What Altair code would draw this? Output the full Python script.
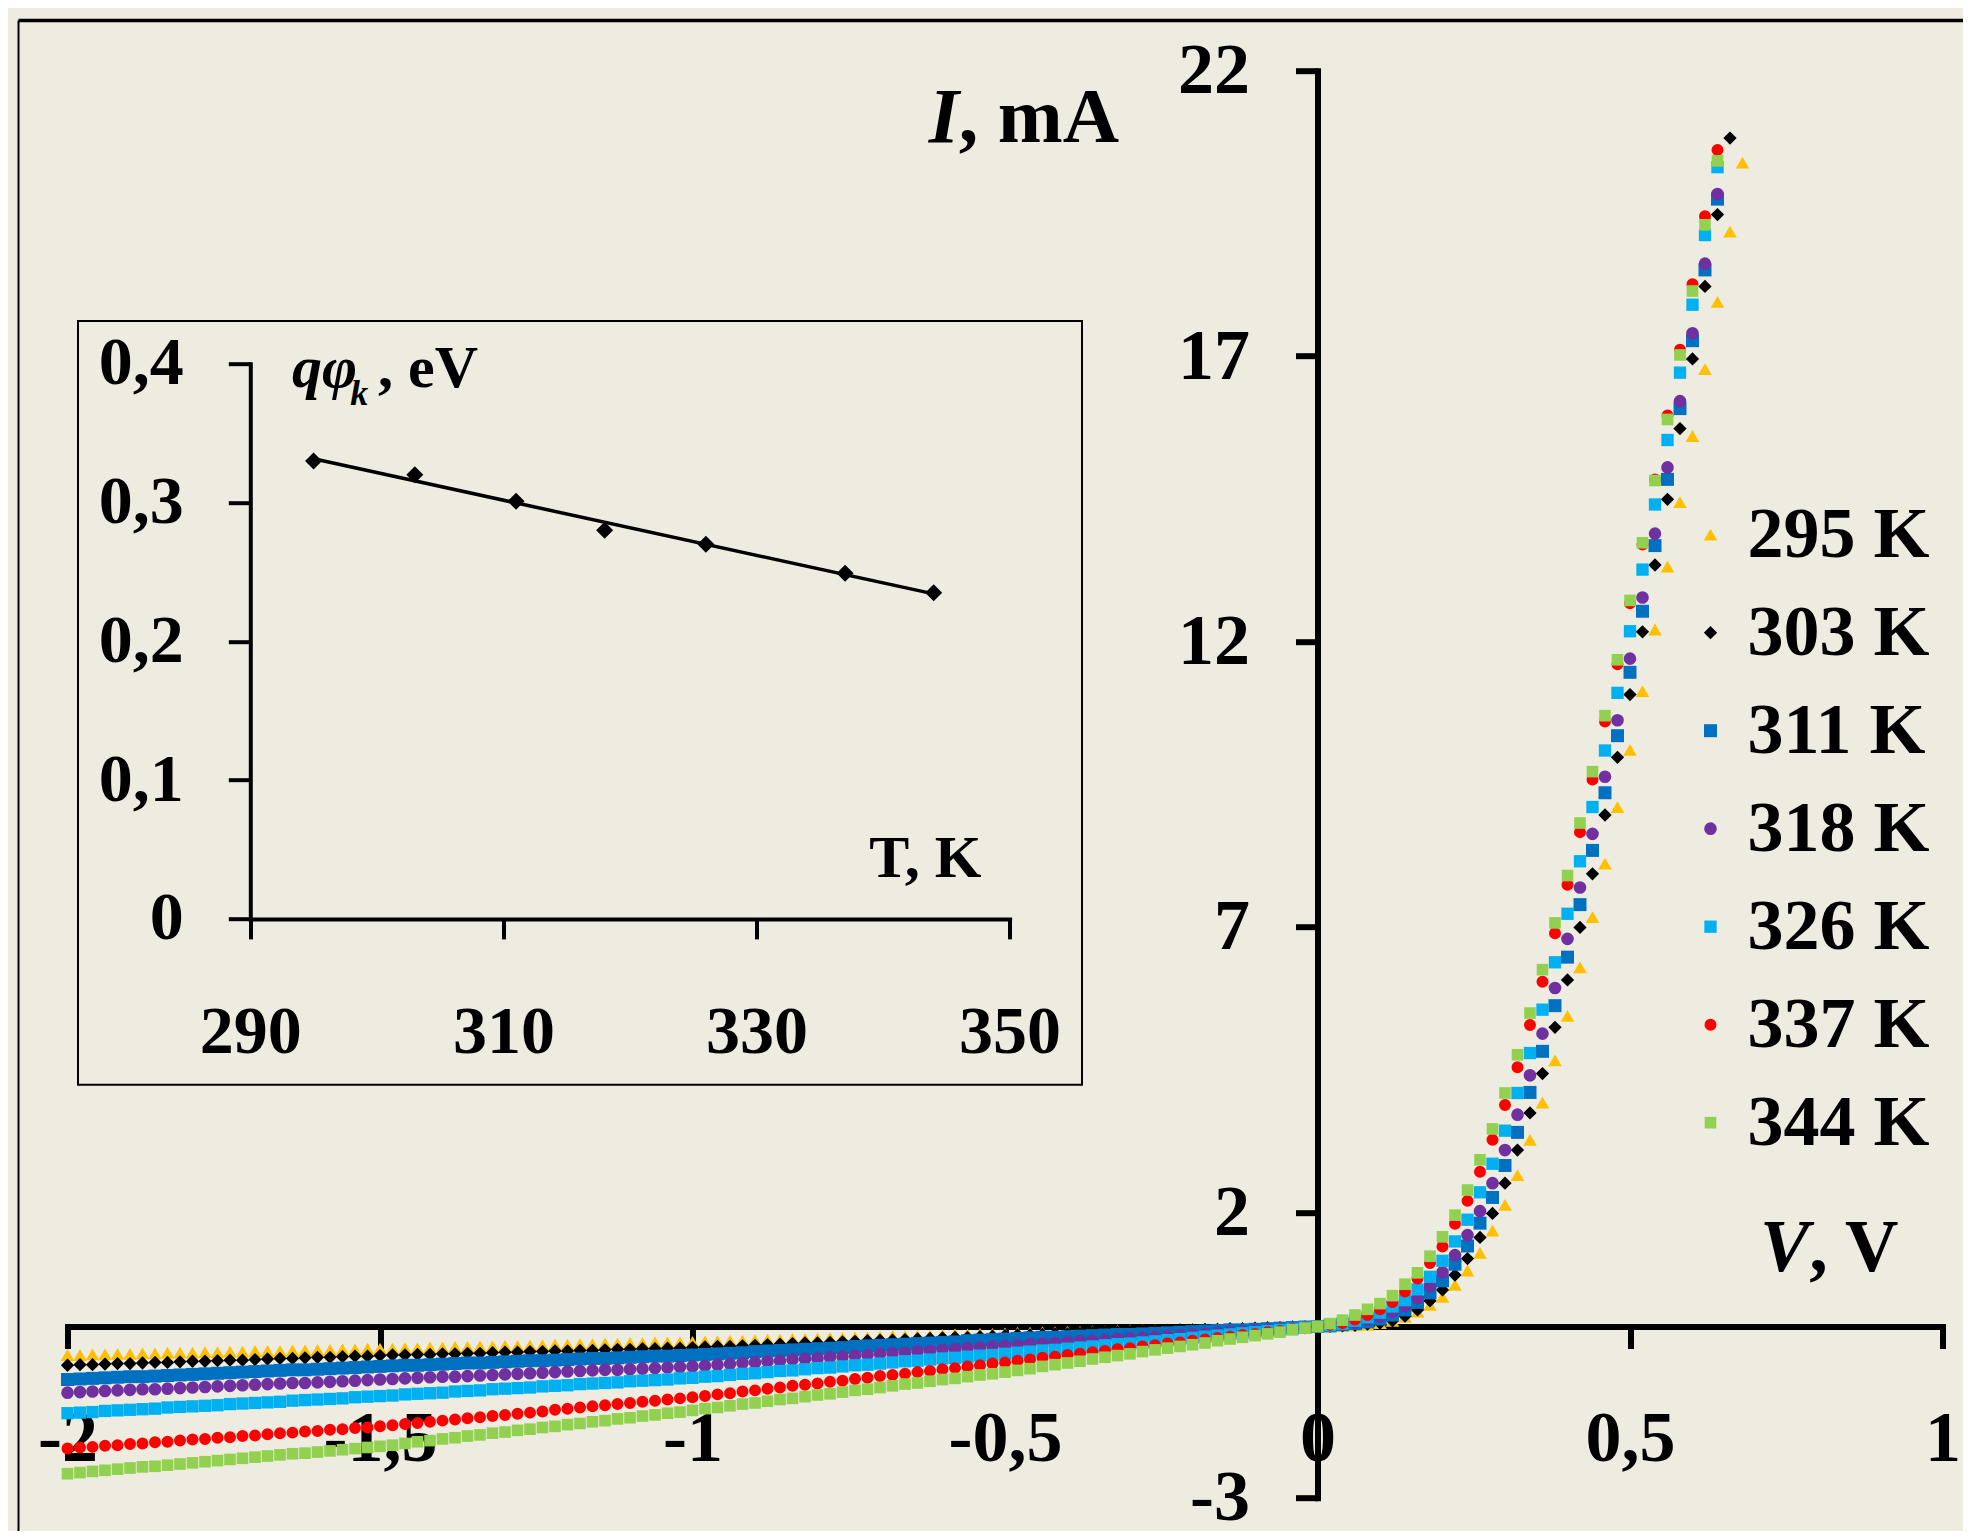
import altair as alt
import pandas as pd

SERIES = ["295 K", "303 K", "311 K", "318 K", "326 K", "337 K", "344 K"]
COLORS = ["#FFC000", "#000000", "#0070C0", "#7030A0", "#00B0F0", "#FF0000", "#92D050"]
SHAPES = ["triangle-up", "diamond", "square", "circle", "square", "circle", "square"]
SIZES = [185, 135, 150, 165, 150, 165, 145]

V_GRID = [
    -2.00, -1.98, -1.96, -1.94, -1.92, -1.90, -1.88, -1.86, -1.84, -1.82,
    -1.80, -1.78, -1.76, -1.74, -1.72, -1.70, -1.68, -1.66, -1.64, -1.62,
    -1.60, -1.58, -1.56, -1.54, -1.52, -1.50, -1.48, -1.46, -1.44, -1.42,
    -1.40, -1.38, -1.36, -1.34, -1.32, -1.30, -1.28, -1.26, -1.24, -1.22,
    -1.20, -1.18, -1.16, -1.14, -1.12, -1.10, -1.08, -1.06, -1.04, -1.02,
    -1.00, -0.98, -0.96, -0.94, -0.92, -0.90, -0.88, -0.86, -0.84, -0.82,
    -0.80, -0.78, -0.76, -0.74, -0.72, -0.70, -0.68, -0.66, -0.64, -0.62,
    -0.60, -0.58, -0.56, -0.54, -0.52, -0.50, -0.48, -0.46, -0.44, -0.42,
    -0.40, -0.38, -0.36, -0.34, -0.32, -0.30, -0.28, -0.26, -0.24, -0.22,
    -0.20, -0.18, -0.16, -0.14, -0.12, -0.10, -0.08, -0.06, -0.04, -0.02,
    0.00, 0.02, 0.04, 0.06, 0.08, 0.10, 0.12, 0.14, 0.16, 0.18,
    0.20, 0.22, 0.24, 0.26, 0.28, 0.30, 0.32, 0.34, 0.36, 0.38,
    0.40, 0.42, 0.44, 0.46, 0.48, 0.50, 0.52, 0.54, 0.56, 0.58,
    0.60, 0.62, 0.64, 0.66, 0.68,
]

I_295 = [
    -0.50, -0.50, -0.49, -0.49, -0.48, -0.48, -0.47, -0.47, -0.46, -0.46, -0.46, -0.45, -0.45,
    -0.44, -0.44, -0.43, -0.43, -0.43, -0.42, -0.42, -0.41, -0.41, -0.40, -0.40, -0.39,
    -0.39, -0.39, -0.38, -0.38, -0.37, -0.37, -0.36, -0.36, -0.35, -0.35, -0.34, -0.34, -0.33,
    -0.33, -0.32, -0.32, -0.31, -0.31, -0.30, -0.30, -0.29, -0.29, -0.28, -0.28, -0.28,
    -0.27, -0.26, -0.26, -0.25, -0.25, -0.24, -0.23, -0.23, -0.22, -0.22, -0.21, -0.20, -0.20,
    -0.19, -0.19, -0.18, -0.17, -0.17, -0.16, -0.16, -0.15, -0.14, -0.14, -0.13, -0.13,
    -0.12, -0.11, -0.11, -0.10, -0.10, -0.09, -0.09, -0.08, -0.08, -0.07, -0.07, -0.06, -0.06,
    -0.05, -0.05, -0.04, -0.04, -0.03, -0.03, -0.03, -0.02, -0.02, -0.01, -0.01, 0.00,
    0.00, 0.00, 0.01, 0.02, 0.03, 0.06, 0.10, 0.17, 0.26, 0.38, 0.52, 0.73, 0.98, 1.29, 1.68,
    2.13, 2.65, 3.27, 3.92, 4.66, 5.44, 6.29, 7.17, 8.11, 9.10, 10.10, 11.13, 12.21, 13.31,
    14.44, 15.60, 16.77, 17.95, 19.18, 20.39,
]
I_303 = [
    -0.68, -0.67, -0.67, -0.66, -0.65, -0.65, -0.64, -0.63, -0.63, -0.62, -0.61, -0.61, -0.60,
    -0.59, -0.59, -0.58, -0.57, -0.56, -0.56, -0.55, -0.54, -0.54, -0.53, -0.52, -0.52,
    -0.51, -0.50, -0.50, -0.49, -0.49, -0.48, -0.48, -0.47, -0.47, -0.46, -0.45, -0.45, -0.44,
    -0.44, -0.43, -0.43, -0.42, -0.42, -0.41, -0.40, -0.40, -0.39, -0.39, -0.38, -0.38,
    -0.37, -0.36, -0.35, -0.35, -0.34, -0.33, -0.32, -0.31, -0.30, -0.29, -0.29, -0.28, -0.27,
    -0.26, -0.25, -0.24, -0.24, -0.23, -0.22, -0.21, -0.20, -0.19, -0.19, -0.18, -0.17,
    -0.16, -0.15, -0.15, -0.14, -0.13, -0.13, -0.12, -0.11, -0.10, -0.10, -0.09, -0.08, -0.08,
    -0.07, -0.06, -0.06, -0.05, -0.05, -0.04, -0.04, -0.03, -0.02, -0.02, -0.01, -0.01,
    0.00, 0.00, 0.01, 0.02, 0.04, 0.06, 0.10, 0.18, 0.29, 0.45, 0.64, 0.90, 1.19, 1.56, 1.98,
    2.51, 3.09, 3.74, 4.43, 5.24, 6.07, 6.99, 7.93, 8.96, 9.97, 11.07, 12.17, 13.34, 14.49,
    15.73, 16.95, 18.22, 19.48, 20.82,
]
I_311 = [
    -0.93, -0.92, -0.91, -0.90, -0.89, -0.88, -0.88, -0.87, -0.86, -0.85, -0.84, -0.83, -0.82,
    -0.81, -0.80, -0.79, -0.78, -0.77, -0.76, -0.76, -0.75, -0.74, -0.73, -0.72, -0.71,
    -0.70, -0.69, -0.68, -0.68, -0.67, -0.66, -0.65, -0.64, -0.64, -0.63, -0.62, -0.61, -0.60,
    -0.60, -0.59, -0.58, -0.57, -0.56, -0.56, -0.55, -0.54, -0.53, -0.52, -0.52, -0.51,
    -0.50, -0.49, -0.48, -0.47, -0.46, -0.44, -0.43, -0.42, -0.41, -0.40, -0.39, -0.38, -0.37,
    -0.35, -0.34, -0.33, -0.32, -0.31, -0.30, -0.29, -0.28, -0.27, -0.25, -0.24, -0.23,
    -0.22, -0.21, -0.20, -0.19, -0.19, -0.18, -0.17, -0.16, -0.15, -0.14, -0.14, -0.13, -0.12,
    -0.11, -0.10, -0.09, -0.08, -0.07, -0.06, -0.06, -0.05, -0.04, -0.03, -0.02, -0.01,
    0.00, 0.01, 0.03, 0.05, 0.08, 0.13, 0.20, 0.29, 0.42, 0.59, 0.80, 1.09, 1.41, 1.81, 2.26,
    2.82, 3.40, 4.10, 4.82, 5.62, 6.47, 7.39, 8.34, 9.35, 10.35, 11.46, 12.53, 13.68, 14.84,
    16.08, 17.27, 18.51, 19.75,
]
I_318 = [
    -1.16, -1.15, -1.14, -1.13, -1.12, -1.11, -1.10, -1.10, -1.09, -1.08, -1.07, -1.06, -1.05,
    -1.04, -1.03, -1.02, -1.01, -1.00, -0.99, -0.99, -0.98, -0.97, -0.96, -0.95, -0.94,
    -0.93, -0.92, -0.91, -0.90, -0.89, -0.88, -0.88, -0.87, -0.86, -0.85, -0.84, -0.83, -0.82,
    -0.81, -0.80, -0.79, -0.78, -0.77, -0.76, -0.76, -0.75, -0.74, -0.73, -0.72, -0.71,
    -0.70, -0.69, -0.67, -0.66, -0.64, -0.63, -0.61, -0.60, -0.58, -0.57, -0.56, -0.54, -0.53,
    -0.51, -0.50, -0.48, -0.47, -0.46, -0.44, -0.43, -0.41, -0.40, -0.38, -0.37, -0.35,
    -0.34, -0.33, -0.31, -0.30, -0.29, -0.27, -0.26, -0.25, -0.24, -0.22, -0.21, -0.20, -0.18,
    -0.17, -0.16, -0.14, -0.13, -0.11, -0.10, -0.09, -0.07, -0.06, -0.04, -0.03, -0.01,
    0.00, 0.02, 0.04, 0.07, 0.12, 0.18, 0.26, 0.36, 0.50, 0.71, 0.95, 1.25, 1.60, 2.02, 2.51,
    3.09, 3.71, 4.40, 5.13, 5.93, 6.79, 7.69, 8.63, 9.63, 10.62, 11.70, 12.77, 13.89, 15.05,
    16.21, 17.40, 18.62, 19.84,
]
I_326 = [
    -1.52, -1.51, -1.50, -1.48, -1.47, -1.46, -1.45, -1.44, -1.42, -1.41, -1.40, -1.39, -1.38,
    -1.36, -1.35, -1.34, -1.33, -1.32, -1.30, -1.29, -1.28, -1.27, -1.26, -1.24, -1.23,
    -1.22, -1.21, -1.19, -1.18, -1.17, -1.16, -1.14, -1.13, -1.12, -1.10, -1.09, -1.08, -1.07,
    -1.05, -1.04, -1.03, -1.01, -1.00, -0.99, -0.98, -0.96, -0.95, -0.94, -0.93, -0.91,
    -0.90, -0.88, -0.87, -0.85, -0.83, -0.82, -0.80, -0.78, -0.77, -0.75, -0.73, -0.72, -0.70,
    -0.68, -0.67, -0.65, -0.63, -0.61, -0.60, -0.58, -0.56, -0.55, -0.53, -0.51, -0.50,
    -0.48, -0.46, -0.44, -0.42, -0.41, -0.39, -0.37, -0.35, -0.33, -0.31, -0.30, -0.28, -0.26,
    -0.24, -0.22, -0.20, -0.18, -0.16, -0.14, -0.12, -0.10, -0.08, -0.06, -0.04, -0.02,
    0.00, 0.02, 0.05, 0.10, 0.16, 0.24, 0.35, 0.46, 0.65, 0.87, 1.15, 1.49, 1.87, 2.35, 2.85,
    3.43, 4.09, 4.79, 5.55, 6.38, 7.23, 8.15, 9.10, 10.09, 11.10, 12.18, 13.26, 14.40, 15.53,
    16.71, 17.90, 19.12, 20.31,
]
I_337 = [
    -2.14, -2.12, -2.11, -2.09, -2.08, -2.06, -2.05, -2.03, -2.02, -2.00, -1.98, -1.97, -1.95,
    -1.94, -1.92, -1.91, -1.89, -1.87, -1.86, -1.84, -1.83, -1.81, -1.80, -1.78, -1.77,
    -1.75, -1.73, -1.71, -1.69, -1.67, -1.65, -1.63, -1.61, -1.59, -1.57, -1.55, -1.53, -1.51,
    -1.49, -1.46, -1.44, -1.42, -1.40, -1.38, -1.36, -1.34, -1.32, -1.30, -1.28, -1.26,
    -1.24, -1.22, -1.19, -1.17, -1.14, -1.12, -1.09, -1.07, -1.04, -1.02, -1.00, -0.97, -0.95,
    -0.92, -0.90, -0.87, -0.85, -0.83, -0.80, -0.78, -0.75, -0.73, -0.70, -0.68, -0.65,
    -0.63, -0.60, -0.58, -0.55, -0.53, -0.50, -0.48, -0.45, -0.43, -0.40, -0.38, -0.35, -0.33,
    -0.30, -0.28, -0.25, -0.23, -0.20, -0.18, -0.15, -0.13, -0.10, -0.08, -0.05, -0.03,
    0.00, 0.03, 0.06, 0.12, 0.20, 0.30, 0.43, 0.61, 0.84, 1.11, 1.40, 1.80, 2.20, 2.71, 3.27,
    3.88, 4.54, 5.28, 6.04, 6.89, 7.74, 8.66, 9.58, 10.60, 11.60, 12.67, 13.70, 14.84, 15.96,
    17.11, 18.26, 19.45, 20.61,
]
I_344 = [
    -2.58, -2.56, -2.54, -2.52, -2.50, -2.48, -2.46, -2.45, -2.43, -2.41, -2.39, -2.37, -2.35,
    -2.33, -2.31, -2.29, -2.27, -2.25, -2.23, -2.22, -2.20, -2.18, -2.16, -2.14, -2.12,
    -2.10, -2.08, -2.05, -2.02, -2.00, -1.97, -1.95, -1.92, -1.90, -1.87, -1.85, -1.82, -1.80,
    -1.77, -1.75, -1.72, -1.70, -1.67, -1.65, -1.62, -1.60, -1.57, -1.55, -1.52, -1.50,
    -1.47, -1.44, -1.42, -1.39, -1.36, -1.34, -1.31, -1.28, -1.26, -1.23, -1.20, -1.18, -1.15,
    -1.12, -1.10, -1.07, -1.04, -1.01, -0.99, -0.96, -0.93, -0.91, -0.88, -0.85, -0.83,
    -0.80, -0.77, -0.74, -0.70, -0.67, -0.64, -0.61, -0.57, -0.54, -0.51, -0.48, -0.44, -0.41,
    -0.38, -0.35, -0.32, -0.29, -0.25, -0.22, -0.19, -0.16, -0.13, -0.10, -0.06, -0.03,
    0.00, 0.05, 0.11, 0.20, 0.30, 0.40, 0.54, 0.74, 0.94, 1.23, 1.57, 1.95, 2.39, 2.92, 3.46,
    4.09, 4.76, 5.49, 6.25, 7.07, 7.90, 8.82, 9.72, 10.70, 11.68, 12.72, 13.73, 14.82, 15.89,
    17.02, 18.14, 19.30, 20.42,
]

T_INSET = [295, 303, 311, 318, 326, 337, 344]
PHI_INSET = [0.330, 0.320, 0.301, 0.280, 0.270, 0.249, 0.235]

X_TICKS = [-2, -1.5, -1, -0.5, 0, 0.5, 1]
Y_TICKS = [-3, 2, 7, 12, 17, 22]
TX_TICKS = [290, 310, 330, 350]
TY_TICKS = [0, 0.1, 0.2, 0.3, 0.4]

ALL_I = [I_295, I_303, I_311, I_318, I_326, I_337, I_344]
EXPECTED = [135, 134, 133, 133, 133, 133, 133]
for name, vals, n in zip(SERIES, ALL_I, EXPECTED):
    assert len(vals) == n, f"{name}: {len(vals)} values, expected {n}"

FONT = "Liberation Serif"
BG = "#EEECE1"
W, H = 1875, 1427
LBL = 72
COMMA = "replace(toString(datum.value), '.', ',')"

rows = []
for name, vals in zip(SERIES, ALL_I):
    for v, cur in zip(V_GRID, vals):
        rows.append({"V": v, "I": cur, "series": name})
iv = pd.DataFrame(rows)
inset_df = pd.DataFrame({"T": T_INSET, "phi": PHI_INSET})
one = pd.DataFrame({"k": [0]})


def axis(orient, offset, values, tick, pad, width, font_size=LBL):
    return alt.Axis(
        orient=orient, offset=offset, values=values, title=None, grid=False,
        labelExpr=COMMA, labelFont=FONT, labelFontSize=font_size,
        labelFontWeight="bold", labelColor="black", labelPadding=pad,
        labelFlush=False, labelOverlap=False, labelBound=False,
        domainColor="black", domainWidth=width, tickColor="black",
        tickWidth=width, tickSize=tick, domainCap="square",
    )


leg = alt.Legend(
    orient="none", legendX=1607, legendY=428, title=None,
    labelFont=FONT, labelFontSize=LBL, labelFontWeight="bold", labelColor="black",
    labelLimit=500, symbolSize=150, rowPadding=26, labelOffset=1, padding=0,
)

points = alt.Chart(iv).mark_point(filled=True, opacity=1).encode(
    x=alt.X("V:Q", scale=alt.Scale(domain=[-2, 1], nice=False, zero=False),
            axis=axis("bottom", -171.2, X_TICKS, 22, 55, 6)),
    y=alt.Y("I:Q", scale=alt.Scale(domain=[-3, 22], nice=False, zero=False),
            axis=axis("left", -1250, Y_TICKS, 22, 46, 6)),
    color=alt.Color("series:N", scale=alt.Scale(domain=SERIES, range=COLORS), legend=leg),
    shape=alt.Shape("series:N", scale=alt.Scale(domain=SERIES, range=SHAPES), legend=leg),
    size=alt.Size("series:N", scale=alt.Scale(domain=SERIES, range=SIZES), legend=None),
    order=alt.Order("series:N"),
)


def label(text, x, y, size, italic=False):
    return alt.Chart(one).mark_text(
        text=text, font=FONT, fontSize=size, fontWeight="bold",
        fontStyle="italic" if italic else "normal", align="left",
        baseline="alphabetic", color="black",
    ).encode(x=alt.datum(x), y=alt.datum(y))


main_titles = [
    label("I", -0.622, 20.75, 78, True),
    label(", mA", -0.574, 20.75, 78),
    label("V", 0.708, 0.967, 74, True),
    label(", V", 0.787, 0.967, 74),
]

frame_top = alt.Chart(one).mark_rule(color="black", strokeWidth=3.5).encode(
    x=alt.value(-49), x2=alt.value(1940), y=alt.value(-50.2))
frame_left = alt.Chart(one).mark_rule(color="black", strokeWidth=2).encode(
    x=alt.value(-49), y=alt.value(-50.2), y2=alt.value(1500))
inset_box = alt.Chart(one).mark_rect(fillOpacity=0, stroke="black", strokeWidth=2).encode(
    x=alt.value(10.5), x2=alt.value(1014.5), y=alt.value(250.2), y2=alt.value(1014))

main = alt.layer(frame_top, frame_left, inset_box, points, *main_titles)

tx = alt.Scale(domain=[290, 350], range=[182.8, 942.1], nice=False, zero=False)
ty = alt.Scale(domain=[0, 0.4], range=[848.2, 293.1], nice=False, zero=False)

inset_pts = alt.Chart(inset_df).mark_point(
    filled=True, opacity=1, shape="diamond", size=290, color="black").encode(
    x=alt.X("T:Q", scale=tx, axis=axis("bottom", -578.8, TX_TICKS, 20, 60, 4, 68)),
    y=alt.Y("phi:Q", scale=ty, axis=axis("left", -182.8, TY_TICKS, 22, 45, 4, 68)),
)
inset_fit = alt.Chart(inset_df).transform_regression("T", "phi").mark_line(
    color="black", strokeWidth=3.5).encode(
    x=alt.X("T:Q", scale=tx), y=alt.Y("phi:Q", scale=ty))

inset_titles = [
    label("q\u03c6", 293.3, 0.383, 60, True),
    label("k", 297.9, 0.3705, 36, True),
    label(", eV", 300.1, 0.383, 60),
    label("T, K", 338.9, 0.0305, 60),
]

inset = alt.layer(inset_fit, inset_pts, *inset_titles)

chart = alt.layer(main, inset).resolve_scale(
    x="independent", y="independent"
).properties(
    width=W, height=H, background=BG,
    padding={"left": 59.5, "top": 62.7, "right": 20, "bottom": 33},
    autosize=alt.AutoSizeParams(type="none"),
).configure_view(strokeWidth=0)

chart.save("out.html", embed_options={"renderer": "svg", "actions": False})
